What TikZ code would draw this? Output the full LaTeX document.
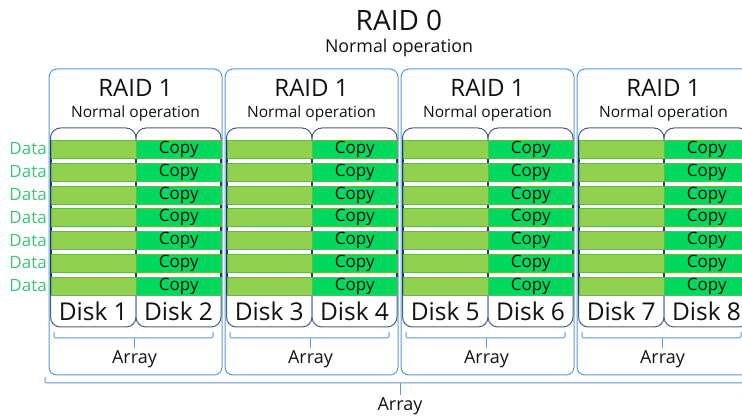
\documentclass[tikz,border=0pt]{standalone}
\usepackage{fontspec}
\setmainfont{Open Sans}
\usepackage{tikz}

\definecolor{datagreen}{HTML}{92D050}
\definecolor{copygreen}{HTML}{00D85E}
\definecolor{rowedge}{HTML}{5DBB46}
\definecolor{labelgreen}{HTML}{3CC47C}
\definecolor{boxblue}{HTML}{5B9BD5}
\definecolor{diskedge}{HTML}{4A5E85}
\definecolor{diskside}{HTML}{1F3A78}
\definecolor{inkdark}{HTML}{111111}

\begin{document}
\begin{tikzpicture}[x=1pt,y=-1pt,
  groupbox/.style={draw=boxblue, line width=1pt, rounded corners=8pt},
  diskbox/.style={draw=diskedge, line width=1pt, rounded corners=10pt, fill=white},
  datarow/.style={fill=datagreen, draw=rowedge, line width=0.6pt, minimum height=18pt, anchor=north west},
  copyrow/.style={fill=copygreen, draw=rowedge, line width=0.6pt, minimum height=18pt, anchor=north west,
    font=\fontsize{17}{17}\selectfont},
  bracket/.style={draw=boxblue, line width=1pt, rounded corners=1.5pt}]
\tikzstyle{every node}+=[inner sep=0pt, text=inkdark]
\useasboundingbox (0,0) rectangle (742,419);
\clip (0,0) rectangle (742,419);
% top title
\node[font=\fontsize{28}{28}\selectfont] (raid0) at (399,20) {RAID 0};
\node[font=\fontsize{17.8}{17.8}\selectfont] (raid0sub) at (399,48) {Normal operation};
% the four mirrored pairs
\foreach \g [evaluate=\g as \L using 49+176*\g,
             evaluate=\g as \na using int(2*\g+1),
             evaluate=\g as \nb using int(2*\g+2)] in {0,...,3} {
  \draw[groupbox] (\L,69) rectangle ({\L+173},375);
  \node[font=\fontsize{24}{24}\selectfont] (raid1\g) at ({\L+86.5},88) {RAID 1};
  \node[font=\fontsize{15.5}{15.5}\selectfont] (raid1sub\g) at ({\L+86.5},113) {Normal operation};
  \draw[diskbox] ({\L+1.5},128) rectangle ({\L+87},327);
  \draw[diskbox] ({\L+87},128) rectangle ({\L+172},327);
  \draw[diskside, line width=2pt] ({\L+1.5},140) -- ({\L+1.5},295);
  \draw[diskside, line width=2pt] ({\L+87},140) -- ({\L+87},295);
  \draw[diskside, line width=2pt] ({\L+172},140) -- ({\L+172},295);
  \foreach \r [evaluate=\r as \T using 140+22.8*\r] in {0,...,6} {
    \node[datarow, minimum width=85.5pt] (data\g\r) at ({\L+1.5},\T) {};
    \node[copyrow, minimum width=85pt] (copy\g\r) at ({\L+87},\T) {Copy};
  }
  \node[font=\fontsize{24.5}{24.5}\selectfont] (disk\na) at ({\L+44.25},311) {Disk \na};
  \node[font=\fontsize{24.5}{24.5}\selectfont] (disk\nb) at ({\L+129.5},311) {Disk \nb};
  \draw[bracket] ({\L+5},332) |- ({\L+85.5},338) -| ({\L+164},332);
  \draw[bracket] ({\L+85.5},338) -- ({\L+85.5},348);
  \node[font=\fontsize{18}{18}\selectfont] (array\g) at ({\L+85.5},359) {Array};
}
% row labels
\foreach \r [evaluate=\r as \T using 149+22.8*\r] in {0,...,6}
  \node[anchor=east, text=labelgreen, font=\fontsize{17}{17}\selectfont] (label\r) at (47,\T) {Data};
% whole array
\draw[bracket] (45,377) |- (400,383) -| (755,377);
\draw[bracket] (400,383) -- (400,395);
\node[font=\fontsize{18}{18}\selectfont] (arrayall) at (400,406) {Array};
\end{tikzpicture}
\end{document}
